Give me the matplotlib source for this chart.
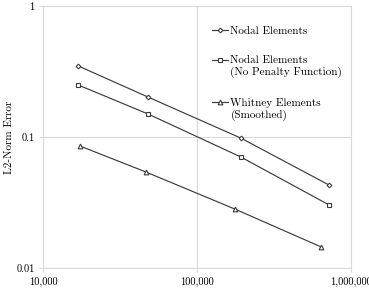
import matplotlib
matplotlib.use("Agg")
import matplotlib.pyplot as plt
from matplotlib.ticker import FuncFormatter, LogLocator, NullLocator

plt.rcParams['font.family'] = 'serif'
plt.rcParams['font.serif'] = ['cmr10']
plt.rcParams['axes.formatter.use_mathtext'] = True

# element counts and errors
nodal_x = [17000, 48000, 193000, 720000]
nodal_err = [0.348, 0.202, 0.098, 0.043]

nopen_x = [17000, 48000, 193000, 720000]
nopen_err = [0.249, 0.150, 0.0703, 0.0303]

whitney_x = [17400, 46700, 176000, 638000]
whitney_err = [0.0853, 0.054, 0.0282, 0.0145]

labels = ['Nodal Elements',
          'Nodal Elements\n(No Penalty Function)',
          'Whitney Elements\n(Smoothed)']

fig = plt.figure(figsize=(3.69, 2.90), dpi=100)
ax = fig.add_axes([43/369, 1 - 268/290, 308/369, 262/290])

lc = '#3c3c3c'
kw = dict(color=lc, lw=0.85, markerfacecolor='white', markeredgecolor=lc,
          markeredgewidth=0.8)
ax.plot(nodal_x, nodal_err, marker='D', ms=2.4, label=labels[0], **kw)
ax.plot(nopen_x, nopen_err, marker='s', ms=3.1, label=labels[1], **kw)
ax.plot(whitney_x, whitney_err, marker='^', ms=3.4, label=labels[2], **kw)

ax.set_xscale('log')
ax.set_yscale('log')
ax.set_xlim(1e4, 1e6)
ax.set_ylim(0.01, 1)
ax.xaxis.set_major_locator(LogLocator(base=10, numticks=5))
ax.yaxis.set_major_locator(LogLocator(base=10, numticks=5))
ax.xaxis.set_minor_locator(NullLocator())
ax.yaxis.set_minor_locator(NullLocator())
ax.xaxis.set_major_formatter(FuncFormatter(lambda v, p: f'{v:,.0f}'))
ax.yaxis.set_major_formatter(FuncFormatter(lambda v, p: f'{v:g}'))

gc = '#d9d9d9'
ax.grid(True, color=gc, lw=0.8)
ax.set_axisbelow(True)
for s in ax.spines.values():
    s.set_color(gc)
    s.set_linewidth(0.8)
ax.tick_params(axis='both', length=3, color=gc, labelsize=7.5, pad=3)
ax.set_ylabel('L2-Norm Error', fontsize=8, labelpad=2)

leg = ax.legend(loc='upper left', bbox_to_anchor=(0.549, 0.922), frameon=False,
                fontsize=8, borderaxespad=0, borderpad=0, handlelength=1.45,
                handletextpad=0.2, labelspacing=1.8)
# put each handle next to the first line of its label
for col in leg._legend_handle_box.get_children():
    for item in col.get_children():
        item.align = 'top'

fig.savefig('out.png', dpi=100)
